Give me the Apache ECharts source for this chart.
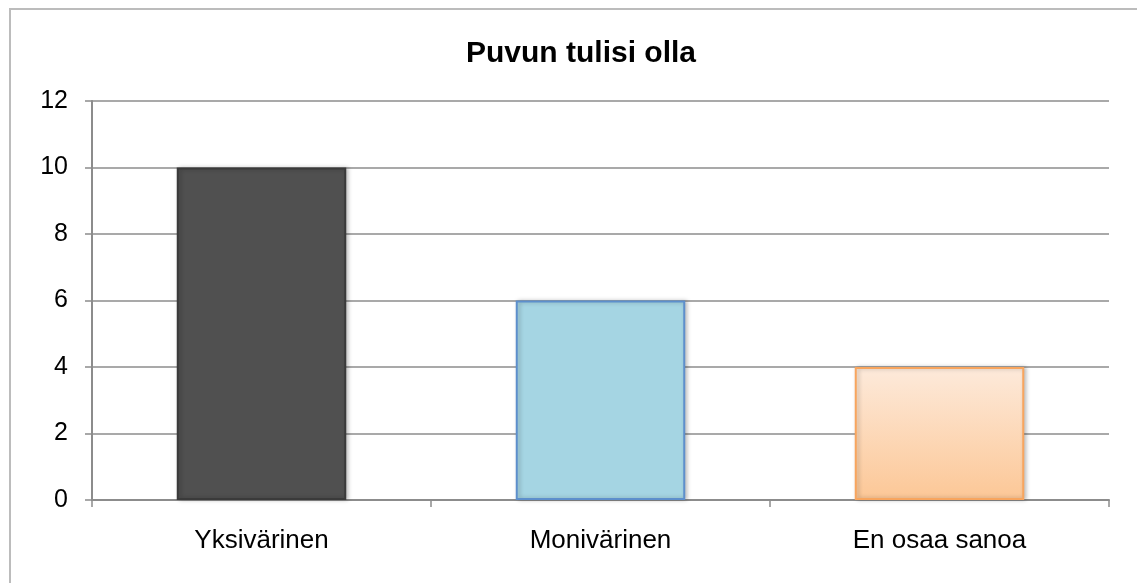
<!DOCTYPE html>
<html>
<head>
<meta charset="utf-8">
<script src="https://cdn.jsdelivr.net/npm/echarts@6/dist/echarts.min.js"></script>
<style>
  html, body { margin: 0; padding: 0; background: #fff; }
  #chart { width: 1137px; height: 583px; }
</style>
</head>
<body>
<div id="chart"></div>
<script>
// Puvun tulisi olla - pylväskaavio
var categories = ['Yksivärinen', 'Monivärinen', 'En osaa sanoa'];
var values = [10, 6, 4];
var yTicks = [0, 2, 4, 6, 8, 10, 12];

var myChart = echarts.init(document.getElementById('chart'));

var barStyles = [
    { color: '#505050', borderColor: '#3a3a3a' },
    { color: '#a5d5e3', borderColor: '#5d8fcc' },
    {
        color: new echarts.graphic.LinearGradient(0, 0, 0, 1, [
            { offset: 0, color: '#fdeadb' },
            { offset: 1, color: '#fcc796' }
        ]),
        borderColor: '#f8a55e'
    }
];

var option = {
    animation: false,
    textStyle: { fontFamily: 'Liberation Sans, Arial, sans-serif' },
    title: {
        text: 'Puvun tulisi olla',
        left: 576,
        textAlign: 'center',
        top: 34,
        textStyle: { fontSize: 30, fontWeight: 'bold', color: '#000' }
    },
    graphic: [{
        type: 'rect',
        shape: { x: 10, y: 9, width: 1140, height: 590 },
        style: { fill: 'none', stroke: '#bcbcbc', lineWidth: 2 },
        silent: true
    }],
    grid: { left: 92, right: 28, top: 101, bottom: 83 },
    xAxis: {
        type: 'category',
        data: categories,
        axisLine: { lineStyle: { color: '#8c8c8c', width: 2 } },
        axisTick: { show: true, length: 7, lineStyle: { color: '#8c8c8c', width: 1.5 } },
        axisLabel: { color: '#000', fontSize: 26, margin: 28 }
    },
    yAxis: {
        type: 'value',
        min: yTicks[0],
        max: yTicks[yTicks.length - 1],
        interval: 2,
        axisLine: { show: true, lineStyle: { color: '#8c8c8c', width: 2 } },
        axisTick: { show: true, length: 7, lineStyle: { color: '#8c8c8c', width: 1.5 } },
        axisLabel: { color: '#000', fontSize: 25, margin: 24 },
        splitLine: { lineStyle: { color: '#8c8c8c', width: 1.5 } }
    },
    series: [{
        type: 'bar',
        barWidth: '50%',
        data: values.map(function (v, i) {
            return {
                value: v,
                itemStyle: {
                    color: barStyles[i].color,
                    borderColor: barStyles[i].borderColor,
                    borderWidth: 2,
                    shadowBlur: 4,
                    shadowOffsetX: 2,
                    shadowColor: 'rgba(0,0,0,0.25)'
                }
            };
        })
    }]
};

myChart.setOption(option);
</script>
</body>
</html>
